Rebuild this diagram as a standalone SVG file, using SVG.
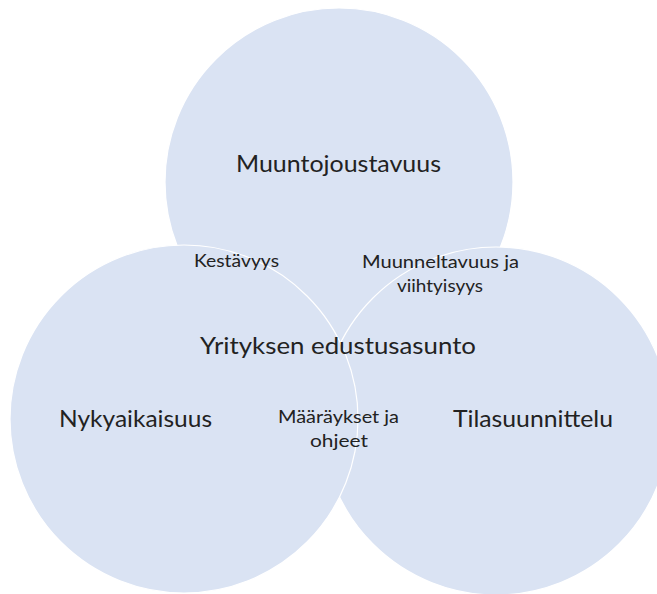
<svg xmlns="http://www.w3.org/2000/svg" width="657" height="594" viewBox="0 0 657 594">
  <style>
    .circle { fill: #DAE3F3; stroke: #FFFFFF; stroke-width: 1.2; }
    text { font-family: Lato, "Noto Sans", "Liberation Sans", sans-serif; fill: #222222; text-anchor: middle; }
    .big { font-size: 24px; }
    .small { font-size: 18px; }
  </style>
  <rect x="0" y="0" width="657" height="594" fill="#FFFFFF"/>
  <g id="node-muuntojoustavuus">
    <circle class="circle" cx="339" cy="182" r="174"/>
    <text class="big" x="338.5" y="172" textLength="205" lengthAdjust="spacingAndGlyphs">Muuntojoustavuus</text>
  </g>
  <g id="node-tilasuunnittelu">
    <circle class="circle" cx="496" cy="421" r="174"/>
  </g>
  <g id="node-nykyaikaisuus">
    <circle class="circle" cx="184" cy="419" r="174"/>
  </g>
  <g id="connectors"></g>
  <g id="labels">
    <text class="big" x="135.5" y="427" textLength="153" lengthAdjust="spacingAndGlyphs">Nykyaikaisuus</text>
    <text class="big" x="533" y="427" textLength="160" lengthAdjust="spacingAndGlyphs">Tilasuunnittelu</text>
  </g>
  <g id="node-center">
    <text class="big" x="338" y="354" textLength="276" lengthAdjust="spacingAndGlyphs">Yrityksen edustusasunto</text>
  </g>
  <g id="overlap-kestavyys">
    <text class="small" x="236.5" y="267" textLength="85" lengthAdjust="spacingAndGlyphs">Kestävyys</text>
  </g>
  <g id="overlap-muunneltavuus">
    <text class="small" x="440.5" y="268" textLength="157" lengthAdjust="spacingAndGlyphs">Muunneltavuus ja</text>
    <text class="small" x="440" y="292" textLength="86" lengthAdjust="spacingAndGlyphs">viihtyisyys</text>
  </g>
  <g id="overlap-maaraykset">
    <text class="small" x="338.5" y="423" textLength="121" lengthAdjust="spacingAndGlyphs">Määräykset ja</text>
    <text class="small" x="339" y="447" textLength="58" lengthAdjust="spacingAndGlyphs">ohjeet</text>
  </g>
</svg>
